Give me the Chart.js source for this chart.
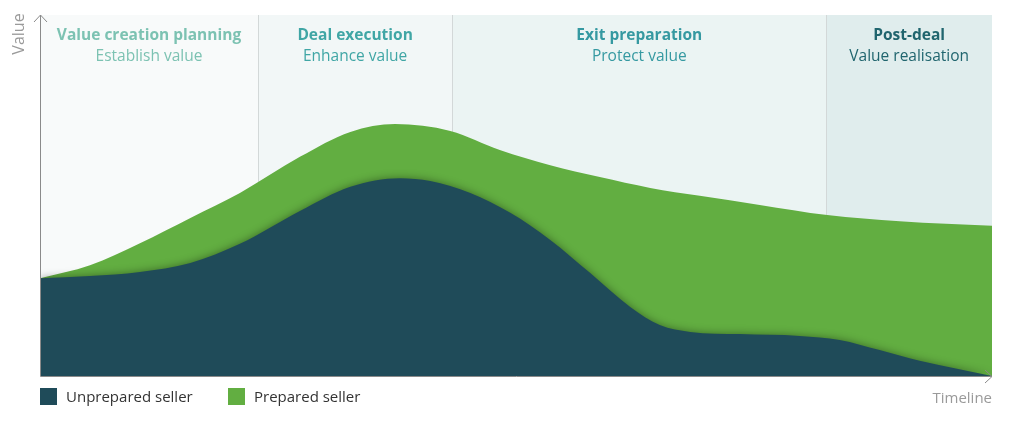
<!DOCTYPE html>
<html>
<head>
<meta charset="utf-8">
<script src="https://cdn.jsdelivr.net/npm/chart.js@4"></script>
<style>
  html, body { margin: 0; padding: 0; background: #fff; }
  #wrap { width: 1020px; height: 431px; }
</style>
</head>
<body>
<div id="wrap"><canvas id="myChart" width="1020" height="431"></canvas></div>
<script>
// Datos
const timelineUnprepared = [0, 5.25, 10.5, 15.8, 21.0, 27.3, 32.6, 37.8, 41.0, 45.2, 49.4, 53.6, 57.8, 62.0, 65.1, 68.3, 73.5, 79.8, 84.0, 88.2, 92.4, 100];
const unprepared = [27.1, 27.7, 28.8, 31.3, 36.6, 45.7, 52.4, 54.8, 54.0, 50.7, 45.2, 37.7, 28.5, 19.1, 14.1, 12.2, 11.6, 11.1, 10.0, 7.2, 4.2, 0];
const timelinePrepared = [0, 5.25, 10.5, 15.8, 21.0, 27.3, 32.6, 37.3, 43.1, 48.3, 53.6, 58.8, 64.1, 69.3, 75.6, 82.7, 90.3, 100];
const prepared = [27.1, 30.7, 36.8, 43.8, 50.7, 60.7, 67.6, 69.8, 67.9, 62.6, 58.4, 55.1, 52.1, 49.9, 47.4, 44.6, 42.9, 41.6];

const phaseEdges = [0, 22.9, 43.3, 82.6, 100];
const phaseTitles = ['Value creation planning', 'Deal execution', 'Exit preparation', 'Post-deal'];
const phaseSubtitles = ['Establish value', 'Enhance value', 'Protect value', 'Value realisation'];
const seriesNames = ['Unprepared seller', 'Prepared seller'];

const bandColors = ['#f8fafa', '#f2f7f7', '#ebf4f3', '#e0eded'];
const textColors = ['#7cc2b2', '#40a6a5', '#3599a1', '#20656e'];
const seriesColors = ['#1f4b59', '#62ae41'];
const FONT = '"Open Sans", sans-serif';

const toPoints = (xs, vals) => vals.map((v, i) => ({ x: xs[i], y: v }));

// Fondo, ejes, textos y leyenda
const decor = {
    id: 'decor',
    beforeDatasetsDraw(chart) {
        const { ctx, chartArea: a, scales: { x } } = chart;
        ctx.save();
        for (let i = 0; i < 4; i++) {
            const x0 = x.getPixelForValue(phaseEdges[i]);
            const x1 = x.getPixelForValue(phaseEdges[i + 1]);
            ctx.fillStyle = bandColors[i];
            ctx.fillRect(x0, a.top, x1 - x0, a.bottom - a.top);
        }
        ctx.strokeStyle = '#d3d8d8';
        ctx.lineWidth = 1;
        for (let i = 1; i < 4; i++) {
            const px = Math.round(x.getPixelForValue(phaseEdges[i])) + 0.5;
            ctx.beginPath();
            ctx.moveTo(px, a.top);
            ctx.lineTo(px, a.bottom);
            ctx.stroke();
        }
        ctx.textAlign = 'center';
        ctx.textBaseline = 'middle';
        for (let i = 0; i < 4; i++) {
            const cx = (x.getPixelForValue(phaseEdges[i]) + x.getPixelForValue(phaseEdges[i + 1])) / 2;
            ctx.fillStyle = textColors[i];
            ctx.font = 'bold 15.5px ' + FONT;
            ctx.fillText(phaseTitles[i], cx, a.top + 21);
            ctx.font = '15.5px ' + FONT;
            ctx.fillText(phaseSubtitles[i], cx, a.top + 42);
        }
        ctx.restore();
    },
    afterDatasetDraw(chart, args) {
        // sombra del área oscura sobre la verde
        if (args.index === 1) {
            chart.ctx.save();
            chart.ctx.shadowColor = 'rgba(0, 0, 0, 0.4)';
            chart.ctx.shadowBlur = 8;
        }
    },
    beforeDatasetDraw(chart, args) {
        if (args.index === 0) chart.ctx.restore();
    },
    afterDraw(chart) {
        const { ctx, chartArea: a } = chart;
        ctx.save();
        ctx.strokeStyle = '#8a8a8a';
        ctx.lineWidth = 1;
        ctx.beginPath();
        ctx.moveTo(a.left + 0.5, a.top);
        ctx.lineTo(a.left + 0.5, a.bottom + 0.5);
        ctx.lineTo(a.right, a.bottom + 0.5);
        ctx.stroke();
        ctx.beginPath();
        ctx.moveTo(a.left - 6, a.top + 7);
        ctx.lineTo(a.left + 0.5, a.top);
        ctx.lineTo(a.left + 7, a.top + 7);
        ctx.moveTo(a.right - 7, a.bottom - 6);
        ctx.lineTo(a.right, a.bottom + 0.5);
        ctx.lineTo(a.right - 7, a.bottom + 7);
        ctx.stroke();

        ctx.fillStyle = '#9a9a9a';
        ctx.font = '15px ' + FONT;
        ctx.textBaseline = 'middle';
        ctx.textAlign = 'right';
        ctx.fillText('Timeline', a.right, a.bottom + 23);
        ctx.save();
        ctx.translate(19, a.top + 19);
        ctx.rotate(-Math.PI / 2);
        ctx.textAlign = 'center';
        ctx.font = '16px ' + FONT;
        ctx.fillText('Value', 0, 0);
        ctx.restore();

        // leyenda
        const lx = [a.left, a.left + 188];
        ctx.textAlign = 'left';
        for (let i = 0; i < 2; i++) {
            ctx.fillStyle = seriesColors[i];
            ctx.fillRect(lx[i], a.bottom + 12, 17, 17);
            ctx.fillStyle = '#333333';
            ctx.fillText(seriesNames[i], lx[i] + 26, a.bottom + 22);
        }
        ctx.restore();
    }
};

const ctx = document.getElementById('myChart').getContext('2d');
const myChart = new Chart(ctx, {
    type: 'line',
    data: {
        datasets: [{
            label: seriesNames[0],
            data: toPoints(timelineUnprepared, unprepared),
            backgroundColor: seriesColors[0],
            borderWidth: 0,
            pointRadius: 0,
            fill: 'origin',
            cubicInterpolationMode: 'monotone'
        }, {
            label: seriesNames[1],
            data: toPoints(timelinePrepared, prepared),
            backgroundColor: seriesColors[1],
            borderWidth: 0,
            pointRadius: 0,
            fill: 'origin',
            cubicInterpolationMode: 'monotone'
        }]
    },
    plugins: [decor],
    options: {
        responsive: false,
        animation: false,
        layout: { padding: { left: 40, right: 28, top: 15, bottom: 55 } },
        scales: {
            x: { type: 'linear', min: 0, max: 100, display: false },
            y: { min: 0, max: 100, display: false }
        },
        plugins: {
            legend: { display: false },
            tooltip: { enabled: false }
        }
    }
});
</script>
</body>
</html>
